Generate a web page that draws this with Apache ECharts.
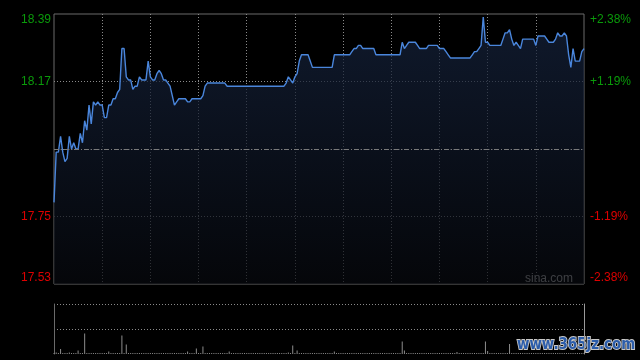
<!DOCTYPE html>
<html>
<head>
<meta charset="utf-8">
<script src="https://cdn.jsdelivr.net/npm/echarts@6/dist/echarts.min.js"></script>
<style>
html,body{margin:0;padding:0;background:#000;}
#c{width:640px;height:360px;}
</style>
</head>
<body>
<div id="c"></div>
<script>
// price per minute (index 0..242)
var prices = [
17.79,17.95,17.95,18.00,17.95,17.92,17.93,18.00,17.96,17.98,
17.96,17.96,18.01,17.98,18.05,18.02,18.10,18.04,18.11,18.10,
18.11,18.10,18.10,18.06,18.06,18.10,18.10,18.12,18.12,18.14,
18.15,18.28,18.28,18.19,18.18,18.18,18.15,18.16,18.16,18.19,
18.18,18.18,18.18,18.24,18.19,18.18,18.18,18.20,18.21,18.20,
18.18,18.18,18.17,18.16,18.13,18.10,18.11,18.12,18.12,18.12,
18.12,18.11,18.11,18.12,18.12,18.12,18.12,18.12,18.13,18.16,
18.17,18.17,18.17,18.17,18.17,18.17,18.17,18.17,18.17,18.16,
18.16,18.16,18.16,18.16,18.16,18.16,18.16,18.16,18.16,18.16,
18.16,18.16,18.16,18.16,18.16,18.16,18.16,18.16,18.16,18.16,
18.16,18.16,18.16,18.16,18.16,18.16,18.17,18.19,18.18,18.17,
18.19,18.20,18.24,18.26,18.26,18.26,18.26,18.24,18.22,18.22,
18.22,18.22,18.22,18.22,18.22,18.22,18.22,18.22,18.26,18.26,
18.26,18.26,18.26,18.26,18.26,18.26,18.27,18.28,18.28,18.29,
18.29,18.28,18.28,18.28,18.28,18.28,18.28,18.26,18.26,18.26,
18.26,18.26,18.26,18.26,18.26,18.26,18.26,18.26,18.26,18.30,
18.28,18.29,18.30,18.30,18.30,18.30,18.29,18.28,18.28,18.28,
18.28,18.29,18.29,18.29,18.29,18.29,18.28,18.28,18.28,18.27,
18.26,18.25,18.25,18.25,18.25,18.25,18.25,18.25,18.25,18.25,
18.25,18.26,18.27,18.27,18.28,18.29,18.38,18.30,18.30,18.29,
18.29,18.29,18.29,18.29,18.29,18.31,18.33,18.33,18.34,18.31,
18.29,18.30,18.29,18.28,18.31,18.31,18.31,18.31,18.31,18.31,
18.29,18.32,18.32,18.32,18.32,18.31,18.30,18.30,18.30,18.31,
18.33,18.32,18.32,18.33,18.32,18.26,18.22,18.28,18.24,18.24,
18.24,18.27,18.28
];
// volume per minute (relative units)
var volumes = [
2,3,2,10,2,2,2,3,2,2,
2,7,2,2,41,2,2,2,2,2,
2,2,2,2,2,5,2,2,2,2,
2,37,2,19,2,2,2,2,2,2,
2,2,2,2,2,2,2,2,2,2,
2,2,2,2,2,2,2,2,2,2,
2,5,2,2,2,11,2,2,15,2,
2,2,2,2,2,2,2,2,2,2,
5,2,2,2,2,2,2,2,2,2,
2,2,2,2,2,2,2,2,2,2,
2,2,2,2,2,2,2,3,2,17,
2,7,2,2,2,2,2,2,2,2,
2,2,2,2,2,2,2,2,5,2,
2,2,2,2,2,2,2,2,2,2,
2,2,2,2,2,2,2,2,2,2,
2,2,2,2,2,2,2,2,2,25,
7,2,2,2,2,2,2,2,2,2,
2,2,2,2,2,2,2,2,2,2,
2,2,2,2,4,2,2,2,2,2,
2,2,2,2,2,2,2,25,6,2,
2,2,2,2,2,2,2,2,20,2,
2,2,2,2,2,2,2,2,2,2,
2,2,2,2,2,2,2,2,2,2,
2,2,2,2,2,2,2,2,2,2,
2,2,2
];
var preClose = 17.96;
var priceMin = 17.53, priceMax = 18.39, priceStep = 0.215;
var leftTickLabels = ['17.53','17.75','','18.17','18.39'];
var rightTickLabels = ['-2.38%','-1.19%','','+1.19%','+2.38%'];
var minutesTotal = 242, gridStep = 22;

var GREEN = '#0a9a0a', RED = '#dd0000', GRID = '#8a8a8a', BORDER = '#6a6a6a';
function labelColor(v, idx){ return idx > 2 ? GREEN : RED; }

var chart = echarts.init(document.getElementById('c'), null, {renderer:'canvas'});
chart.setOption({
  backgroundColor:'#000',
  animation:false,
  textStyle:{fontFamily:'"Liberation Sans Narrow","Liberation Sans",Arial,sans-serif'},
  grid:[
    {left:54, right:56, top:14, bottom:76, show:true, borderColor:BORDER, borderWidth:1, backgroundColor:'transparent'},
    {left:54, right:56, top:304, bottom:6, show:false}
  ],
  xAxis:[
    {type:'value', gridIndex:0, min:0, max:minutesTotal, interval:gridStep,
     axisLine:{show:false}, axisTick:{show:false}, axisLabel:{show:false},
     splitLine:{show:true, showMinLine:false, showMaxLine:false, lineStyle:{color:GRID, type:[1,2], width:1}}},
    {type:'value', gridIndex:1, min:0, max:minutesTotal, interval:gridStep,
     axisLine:{show:false}, axisTick:{show:false}, axisLabel:{show:false}, splitLine:{show:false}}
  ],
  yAxis:[
    {type:'value', gridIndex:0, min:priceMin, max:priceMax, interval:priceStep, position:'left',
     axisLine:{show:false}, axisTick:{show:false},
     axisLabel:{show:true, margin:3, fontSize:12, color:labelColor,
       verticalAlignMaxLabel:'top', verticalAlignMinLabel:'bottom',
       formatter:function(v, idx){ return leftTickLabels[idx]; }},
     splitLine:{show:true, showMinLine:false, showMaxLine:false, lineStyle:{color:GRID, type:[1,2], width:1}}},
    {type:'value', gridIndex:0, min:priceMin, max:priceMax, interval:priceStep, position:'right',
     axisLine:{show:false}, axisTick:{show:false},
     axisLabel:{show:true, margin:6, fontSize:12, color:labelColor,
       verticalAlignMaxLabel:'top', verticalAlignMinLabel:'bottom',
       formatter:function(v, idx){ return rightTickLabels[idx]; }},
     splitLine:{show:false}},
    {type:'value', gridIndex:1, min:0, max:100, interval:50, position:'left',
     axisLine:{show:true, lineStyle:{color:BORDER}}, axisTick:{show:false}, axisLabel:{show:false},
     splitLine:{show:true, showMinLine:false, lineStyle:{color:GRID, type:[1,2], width:1}}},
    {type:'value', gridIndex:1, min:0, max:100, interval:50, position:'right',
     axisLine:{show:true, lineStyle:{color:'#9a9a9a'}}, axisTick:{show:false}, axisLabel:{show:false},
     splitLine:{show:false}}
  ],
  series:[
    {type:'line', xAxisIndex:0, yAxisIndex:0, symbol:'none', smooth:false,
     data:prices.map(function(p,i){return [i,p];}),
     lineStyle:{color:'#4a86dc', width:1.4},
     areaStyle:{origin:'start', color:new echarts.graphic.LinearGradient(0,0,0,1,[
       {offset:0,color:'#16243f'},{offset:1,color:'#07090e'}])},
     markLine:{silent:true, symbol:'none', label:{show:false},
       lineStyle:{color:'#7a7a7a', type:[5,2,1,2], width:1},
       data:[{yAxis:preClose}]}
    },
    {type:'bar', xAxisIndex:1, yAxisIndex:2, barWidth:1,
     data:volumes.map(function(v,i){return [i,v];}),
     itemStyle:{color:'#8c8c8c'}}
  ],
  graphic:[
    {type:'text', right:67, top:273, style:{text:'sina.com', fill:'#b8b8b8', font:'12px "Liberation Sans",Arial,sans-serif'}},
    {type:'text', x:517, y:337, scaleX:0.84, style:{text:'www.365jz.com', fill:'#2b5caa', stroke:'#c8c8c8', lineWidth:2,
      font:'bold 16px "DejaVu Sans",sans-serif'}}
  ]
});
</script>
</body>
</html>
